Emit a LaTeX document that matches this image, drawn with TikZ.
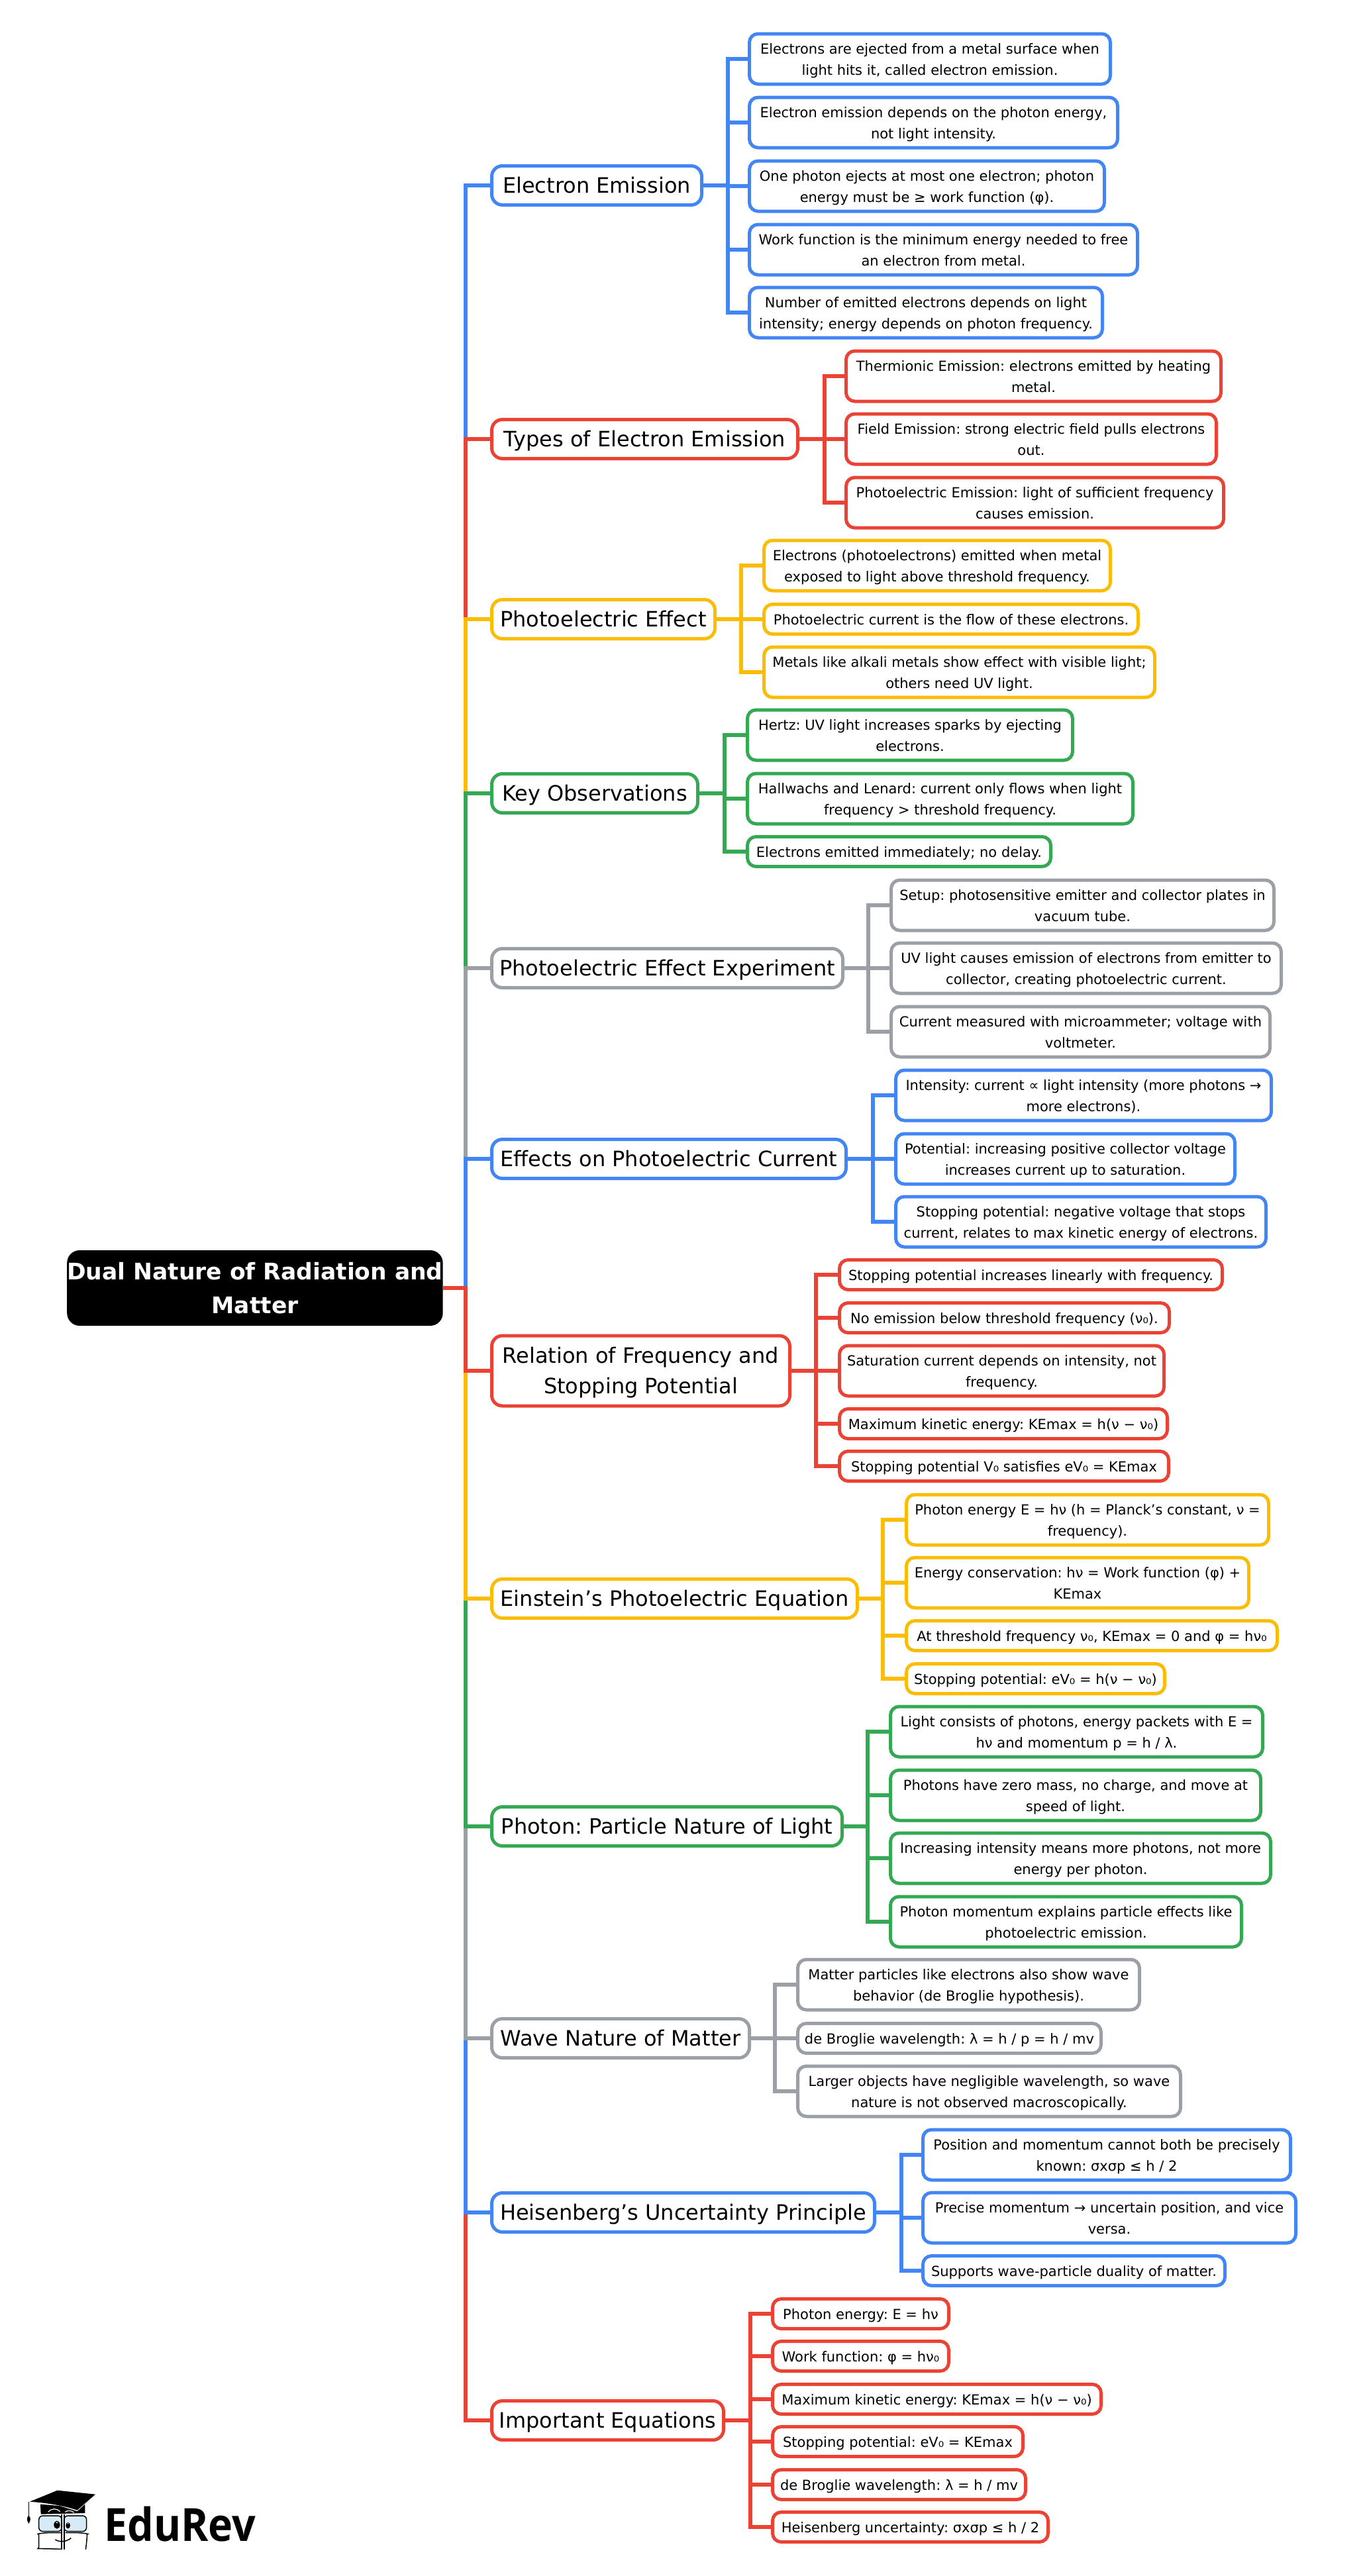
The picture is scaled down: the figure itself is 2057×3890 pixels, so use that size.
\documentclass[tikz,border=0pt]{standalone}
\usepackage{fontspec}
\setmainfont{DejaVu Sans}
\newfontfamily\logofont[FakeStretch=0.91]{Open Sans}
\frenchspacing
\newcommand{\linestrut}{\rule[-.25\baselineskip]{0pt}{\baselineskip}}
\newcommand{\blockstrut}{\rule[-.25\baselineskip]{0pt}{2\baselineskip}}
\definecolor{edblue}{HTML}{4285F4}
\definecolor{edred}{HTML}{EA4335}
\definecolor{edyellow}{HTML}{FBBC04}
\definecolor{edgreen}{HTML}{34A853}
\definecolor{edgrey}{HTML}{9AA0A6}
\definecolor{edglass}{HTML}{D6EAF8}

\begin{document}
\begin{tikzpicture}[x=1pt,y=-1pt,
		link/.style={draw=#1, line width=6.5},
		rootbox/.style={fill=black, text=white, anchor=west, align=center, rounded corners=19, inner sep=0, minimum width=567, minimum height=114, font=\fontsize{34.5}{51}\selectfont\bfseries, execute at begin node=\blockstrut},
		mainbox/.style={draw=#1, line width=5, outer sep=2.5, anchor=west, align=center, rounded corners=16, inner sep=0, minimum height=59, font=\fontsize{32}{46}\selectfont, execute at begin node=\linestrut},
		leaf/.style={draw=#1, line width=5, outer sep=2.5, anchor=west, align=center, rounded corners=13, inner sep=0, font=\fontsize{21}{32}\selectfont, execute at begin node=\linestrut},
		oneline/.style={minimum height=45},
		twoline/.style={minimum height=76, execute at begin node=\blockstrut}]
		\useasboundingbox (0,0) rectangle (2057,3890);
		\node (root) [rootbox] at (101,1945) {Dual Nature of Radiation and\\Matter};
		%Electron Emission
		\node (em) [mainbox=edblue, minimum width=317] at (740,280) {Electron Emission};
		\node (em1) [leaf=edblue, twoline, minimum width=545] at (1129,89) {Electrons are ejected from a metal surface when\\light hits it, called electron emission.};
		\node (em2) [leaf=edblue, twoline, minimum width=556] at (1129,185) {Electron emission depends on the photon energy,\\not light intensity.};
		\node (em3) [leaf=edblue, twoline, minimum width=536] at (1129,281) {One photon ejects at most one electron; photon\\energy must be ≥ work function (φ).};
		\node (em4) [leaf=edblue, twoline, minimum width=586] at (1129,377) {Work function is the minimum energy needed to free\\an electron from metal.};
		\node (em5) [leaf=edblue, twoline, minimum width=533] at (1129,472) {Number of emitted electrons depends on light\\intensity; energy depends on photon frequency.};
		\draw [link=edblue] (em.east) -- ++(37,0) |- (em1.west);
		\draw [link=edblue] (em.east) -- ++(37,0) |- (em2.west);
		\draw [link=edblue] (em.east) -- ++(37,0) |- (em3.west);
		\draw [link=edblue] (em.east) -- ++(37,0) |- (em4.west);
		\draw [link=edblue] (em.east) -- ++(37,0) |- (em5.west);
		%Types of Electron Emission
		\node (typ) [mainbox=edred, minimum width=462] at (740,663) {Types of Electron Emission};
		\node (typ1) [leaf=edred, twoline, minimum width=566] at (1275,568) {Thermionic Emission: electrons emitted by heating\\metal.};
		\node (typ2) [leaf=edred, twoline, minimum width=559] at (1275,663) {Field Emission: strong electric field pulls electrons\\out.};
		\node (typ3) [leaf=edred, twoline, minimum width=570] at (1275,759) {Photoelectric Emission: light of sufficient frequency\\causes emission.};
		\draw [link=edred] (typ.east) -- ++(38,0) |- (typ1.west);
		\draw [link=edred] (typ.east) -- ++(38,0) |- (typ2.west);
		\draw [link=edred] (typ.east) -- ++(38,0) |- (typ3.west);
		%Photoelectric Effect
		\node (pe) [mainbox=edyellow, minimum width=337] at (740,935) {Photoelectric Effect};
		\node (pe1) [leaf=edyellow, twoline, minimum width=523] at (1151,854) {Electrons (photoelectrons) emitted when metal\\exposed to light above threshold frequency.};
		\node (pe2) [leaf=edyellow, oneline, minimum width=565] at (1151,935) {Photoelectric current is the flow of these electrons.};
		\node (pe3) [leaf=edyellow, twoline, minimum width=590] at (1151,1015) {Metals like alkali metals show effect with visible light;\\others need UV light.};
		\draw [link=edyellow] (pe.east) -- ++(37,0) |- (pe1.west);
		\draw [link=edyellow] (pe.east) -- ++(37,0) |- (pe2.west);
		\draw [link=edyellow] (pe.east) -- ++(37,0) |- (pe3.west);
		%Key Observations
		\node (key) [mainbox=edgreen, minimum width=311] at (740,1198) {Key Observations};
		\node (key1) [leaf=edgreen, twoline, minimum width=491] at (1126,1110) {Hertz: UV light increases sparks by ejecting\\electrons.};
		\node (key2) [leaf=edgreen, twoline, minimum width=582] at (1126,1206) {Hallwachs and Lenard: current only flows when light\\frequency > threshold frequency.};
		\node (key3) [leaf=edgreen, oneline, minimum width=458] at (1126,1286) {Electrons emitted immediately; no delay.};
		\draw [link=edgreen] (key.east) -- ++(38,0) |- (key1.west);
		\draw [link=edgreen] (key.east) -- ++(38,0) |- (key2.west);
		\draw [link=edgreen] (key.east) -- ++(38,0) |- (key3.west);
		%Photoelectric Effect Experiment
		\node (exp) [mainbox=edgrey, minimum width=530] at (740,1462) {Photoelectric Effect Experiment};
		\node (exp1) [leaf=edgrey, twoline, minimum width=578] at (1343,1367) {Setup: photosensitive emitter and collector plates in\\vacuum tube.};
		\node (exp2) [leaf=edgrey, twoline, minimum width=589] at (1343,1462) {UV light causes emission of electrons from emitter to\\collector, creating photoelectric current.};
		\node (exp3) [leaf=edgrey, twoline, minimum width=572] at (1343,1558) {Current measured with microammeter; voltage with\\voltmeter.};
		\draw [link=edgrey] (exp.east) -- ++(36,0) |- (exp1.west);
		\draw [link=edgrey] (exp.east) -- ++(36,0) |- (exp2.west);
		\draw [link=edgrey] (exp.east) -- ++(36,0) |- (exp3.west);
		%Effects on Photoelectric Current
		\node (eff) [mainbox=edblue, minimum width=535] at (740,1750) {Effects on Photoelectric Current};
		\node (eff1) [leaf=edblue, twoline, minimum width=567] at (1350,1654) {Intensity: current ∝ light intensity (more photons →\\more electrons).};
		\node (eff2) [leaf=edblue, twoline, minimum width=512] at (1350,1750) {Potential: increasing positive collector voltage\\increases current up to saturation.};
		\node (eff3) [leaf=edblue, twoline, minimum width=559] at (1350,1845) {Stopping potential: negative voltage that stops\\current, relates to max kinetic energy of electrons.};
		\draw [link=edblue] (eff.east) -- ++(38,0) |- (eff1.west);
		\draw [link=edblue] (eff.east) -- ++(38,0) |- (eff2.west);
		\draw [link=edblue] (eff.east) -- ++(38,0) |- (eff3.west);
		%Relation of Frequency and Stopping Potential
		\node (rel) [mainbox=edred, twoline, minimum width=450, minimum height=106] at (740,2070) {Relation of Frequency and\\Stopping Potential};
		\node (rel1) [leaf=edred, oneline, minimum width=578] at (1265,1925) {Stopping potential increases linearly with frequency.};
		\node (rel2) [leaf=edred, oneline, minimum width=498] at (1265,1990) {No emission below threshold frequency (ν₀).};
		\node (rel3) [leaf=edred, twoline, minimum width=490] at (1265,2070) {Saturation current depends on intensity, not\\frequency.};
		\node (rel4) [leaf=edred, oneline, minimum width=495] at (1265,2150) {Maximum kinetic energy: KEmax = h(ν − ν₀)};
		\node (rel5) [leaf=edred, oneline, minimum width=497] at (1265,2214) {Stopping potential V₀ satisfies eV₀ = KEmax};
		\draw [link=edred] (rel.east) -- ++(37,0) |- (rel1.west);
		\draw [link=edred] (rel.east) -- ++(37,0) |- (rel2.west);
		\draw [link=edred] (rel.east) -- ++(37,0) |- (rel3.west);
		\draw [link=edred] (rel.east) -- ++(37,0) |- (rel4.west);
		\draw [link=edred] (rel.east) -- ++(37,0) |- (rel5.west);
		%Einstein's Photoelectric Equation
		\node (ein) [mainbox=edyellow, minimum width=552] at (740,2414) {Einstein’s Photoelectric Equation};
		\node (ein1) [leaf=edyellow, twoline, minimum width=547] at (1366,2295) {Photon energy E = hν (h = Planck’s constant, ν =\\frequency).};
		\node (ein2) [leaf=edyellow, twoline, minimum width=517] at (1366,2390) {Energy conservation: hν = Work function (φ) +\\KEmax};
		\node (ein3) [leaf=edyellow, oneline, minimum width=560] at (1366,2470) {At threshold frequency ν₀, KEmax = 0 and φ = hν₀};
		\node (ein4) [leaf=edyellow, oneline, minimum width=390] at (1366,2535) {Stopping potential: eV₀ = h(ν − ν₀)};
		\draw [link=edyellow] (ein.east) -- ++(36,0) |- (ein1.west);
		\draw [link=edyellow] (ein.east) -- ++(36,0) |- (ein2.west);
		\draw [link=edyellow] (ein.east) -- ++(36,0) |- (ein3.west);
		\draw [link=edyellow] (ein.east) -- ++(36,0) |- (ein4.west);
		%Photon: Particle Nature of Light
		\node (pho) [mainbox=edgreen, minimum width=529] at (740,2758) {Photon: Particle Nature of Light};
		\node (pho1) [leaf=edgreen, twoline, minimum width=562] at (1342,2615) {Light consists of photons, energy packets with E =\\hν and momentum p = h / λ.};
		\node (pho2) [leaf=edgreen, twoline, minimum width=559] at (1342,2711) {Photons have zero mass, no charge, and move at\\speed of light.};
		\node (pho3) [leaf=edgreen, twoline, minimum width=574] at (1342,2806) {Increasing intensity means more photons, not more\\energy per photon.};
		\node (pho4) [leaf=edgreen, twoline, minimum width=530] at (1342,2902) {Photon momentum explains particle effects like\\photoelectric emission.};
		\draw [link=edgreen] (pho.east) -- ++(36,0) |- (pho1.west);
		\draw [link=edgreen] (pho.east) -- ++(36,0) |- (pho2.west);
		\draw [link=edgreen] (pho.east) -- ++(36,0) |- (pho3.west);
		\draw [link=edgreen] (pho.east) -- ++(36,0) |- (pho4.west);
		%Wave Nature of Matter
		\node (wav) [mainbox=edgrey, minimum width=389] at (740,3078) {Wave Nature of Matter};
		\node (wav1) [leaf=edgrey, twoline, minimum width=516] at (1202,2997) {Matter particles like electrons also show wave\\behavior (de Broglie hypothesis).};
		\node (wav2) [leaf=edgrey, oneline, minimum width=458] at (1202,3078) {de Broglie wavelength: λ = h / p = h / mv};
		\node (wav3) [leaf=edgrey, twoline, minimum width=578] at (1202,3158) {Larger objects have negligible wavelength, so wave\\nature is not observed macroscopically.};
		\draw [link=edgrey] (wav.east) -- ++(36,0) |- (wav1.west);
		\draw [link=edgrey] (wav.east) -- ++(36,0) |- (wav2.west);
		\draw [link=edgrey] (wav.east) -- ++(36,0) |- (wav3.west);
		%Heisenberg's Uncertainty Principle
		\node (hei) [mainbox=edblue, minimum width=578] at (740,3341) {Heisenberg’s Uncertainty Principle};
		\node (hei1) [leaf=edblue, twoline, minimum width=555] at (1391,3254) {Position and momentum cannot both be precisely\\known: σxσp ≤ h / 2};
		\node (hei2) [leaf=edblue, twoline, minimum width=563] at (1391,3349) {Precise momentum → uncertain position, and vice\\versa.};
		\node (hei3) [leaf=edblue, oneline, minimum width=456] at (1391,3429) {Supports wave-particle duality of matter.};
		\draw [link=edblue] (hei.east) -- ++(38,0) |- (hei1.west);
		\draw [link=edblue] (hei.east) -- ++(38,0) |- (hei2.west);
		\draw [link=edblue] (hei.east) -- ++(38,0) |- (hei3.west);
		%Important Equations
		\node (imp) [mainbox=edred, minimum width=350] at (740,3655) {Important Equations};
		\node (imp1) [leaf=edred, oneline, minimum width=266] at (1164,3494) {Photon energy: E = hν};
		\node (imp2) [leaf=edred, oneline, minimum width=266] at (1164,3558) {Work function: φ = hν₀};
		\node (imp3) [leaf=edred, oneline, minimum width=496] at (1164,3623) {Maximum kinetic energy: KEmax = h(ν − ν₀)};
		\node (imp4) [leaf=edred, oneline, minimum width=378] at (1164,3687) {Stopping potential: eV₀ = KEmax};
		\node (imp5) [leaf=edred, oneline, minimum width=382] at (1164,3752) {de Broglie wavelength: λ = h / mv};
		\node (imp6) [leaf=edred, oneline, minimum width=416] at (1164,3816) {Heisenberg uncertainty: σxσp ≤ h / 2};
		\draw [link=edred] (imp.east) -- ++(38,0) |- (imp1.west);
		\draw [link=edred] (imp.east) -- ++(38,0) |- (imp2.west);
		\draw [link=edred] (imp.east) -- ++(38,0) |- (imp3.west);
		\draw [link=edred] (imp.east) -- ++(38,0) |- (imp4.west);
		\draw [link=edred] (imp.east) -- ++(38,0) |- (imp5.west);
		\draw [link=edred] (imp.east) -- ++(38,0) |- (imp6.west);
		%Trunk, outer branches first
		\draw [link=edblue] (root.east) -- ++(34,0) |- (em.west);
		\draw [link=edred] (root.east) -- ++(34,0) |- (typ.west);
		\draw [link=edyellow] (root.east) -- ++(34,0) |- (pe.west);
		\draw [link=edgreen] (root.east) -- ++(34,0) |- (key.west);
		\draw [link=edgrey] (root.east) -- ++(34,0) |- (exp.west);
		\draw [link=edblue] (root.east) -- ++(34,0) |- (eff.west);
		\draw [link=edred] (root.east) -- ++(34,0) |- (imp.west);
		\draw [link=edblue] (root.east) -- ++(34,0) |- (hei.west);
		\draw [link=edgrey] (root.east) -- ++(34,0) |- (wav.west);
		\draw [link=edgreen] (root.east) -- ++(34,0) |- (pho.west);
		\draw [link=edyellow] (root.east) -- ++(34,0) |- (ein.west);
		\draw [link=edred] (root.east) -- ++(34,0) |- (rel.west);
		%Logo
		\node (logo) [anchor=base west, inner sep=0, font=\fontsize{69}{69}\selectfont\logofont\bfseries] at (157,3837) {EduRev};
		\begin{scope}[shift={(0,3600)},x=0.3333pt,y=-0.3333pt]
			\fill (135,533) -- (260,482) -- (432,500) -- (350,572) .. controls (280,548) and (200,538) .. cycle;
			\fill (183,545) -- (270,552) -- (350,577) -- (385,545) -- (385,585) -- (185,590) -- cycle;
			\draw [line width=1.2] (130,535) -- (130,600);
			\fill (130,596) .. controls (118,606) and (122,620) .. (130,633) .. controls (138,620) and (142,606) .. (130,596) -- cycle;
			\draw [white, line width=1.2] (218,580) .. controls (235,562) and (255,562) .. (272,578);
			\draw [white, line width=1.2] (295,580) .. controls (305,572) and (322,572) .. (335,582);
			\draw [fill=edglass, line width=1.5, rounded corners=6] (176,597) rectangle (280,668);
			\draw [fill=edglass, line width=1.5, rounded corners=6] (290,597) rectangle (392,668);
			\fill (258,638) ellipse [x radius=14, y radius=18];
			\fill (308,641) ellipse [x radius=10, y radius=14];
			\fill [white] (258,628) circle (4);
			\fill [white] (308,632) circle (3);
			\draw [line width=1.5, rounded corners=8] (276,748) -- (195,746) .. controls (178,746) and (176,735) .. (176,710) .. controls (176,690) and (178,678) .. (195,674) -- (276,674);
			\draw [line width=1.5, rounded corners=8] (296,674) -- (375,674) .. controls (392,678) and (394,695) .. (393,715) -- (388,750);
			\draw [line width=2] (279,590) -- (279,750);
			\draw [line width=2] (290,590) -- (290,750);
			\draw [line width=1.5] (250,705) .. controls (270,718) and (300,716) .. (322,698);
		\end{scope}
\end{tikzpicture}
\end{document}
